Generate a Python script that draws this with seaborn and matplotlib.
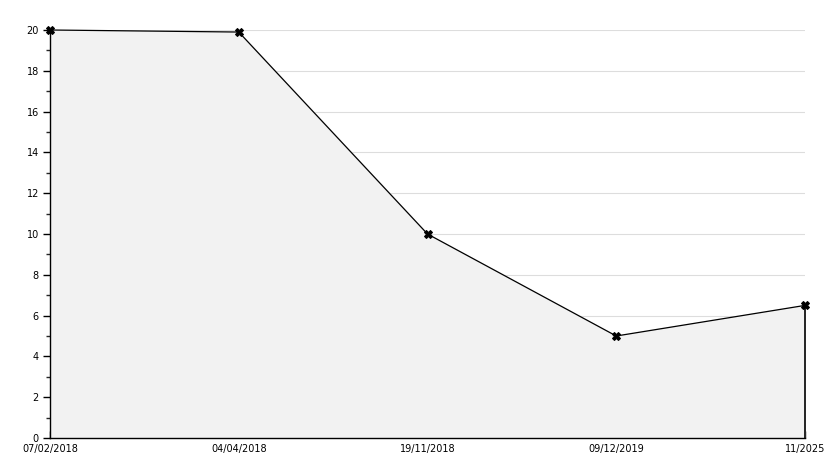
import numpy as np
import pandas as pd
import seaborn as sns
import matplotlib.pyplot as plt
from matplotlib.ticker import MultipleLocator

# data
dates = ["07/02/2018", "04/04/2018", "19/11/2018", "09/12/2019", "11/2025"]
values = [20, 19.9, 10, 5, 6.5]

df = pd.DataFrame({"pos": np.arange(len(dates)), "value": values})

sns.set_style("white")
plt.rcParams["font.family"] = ["DejaVu Sans"]

fig = plt.figure(figsize=(8.34, 4.68), dpi=100)
W, H = 834, 468
ax = fig.add_axes([50 / W, 30 / H, (805 - 50) / W, (438 - 30) / H])

# light grey area under the line
ax.fill_between(df["pos"], df["value"], 0, color="#f2f2f2", zorder=1)
ax.vlines(df["pos"].iloc[-1], 0, df["value"].iloc[-1], color="black", lw=1.2,
          zorder=3, clip_on=False)

sns.lineplot(data=df, x="pos", y="value", color="black", lw=0.9,
             marker="X", markersize=6, markeredgecolor="black", ax=ax,
             zorder=4, clip_on=False)

ax.set_xlim(0, len(dates) - 1)
ax.set_ylim(0, 20)
ax.set_xticks(df["pos"])
ax.set_xticklabels(dates)
ax.yaxis.set_major_locator(MultipleLocator(2))
ax.yaxis.set_minor_locator(MultipleLocator(1))
ax.grid(axis="y", color="#dddddd", lw=0.8, zorder=0)
ax.set_axisbelow(True)

for s in ["top", "right"]:
    ax.spines[s].set_visible(False)
for s in ["left", "bottom"]:
    ax.spines[s].set_color("black")
    ax.spines[s].set_linewidth(1)

ax.tick_params(axis="y", which="major", direction="out", length=5, width=1,
               labelsize=7, colors="black", left=True, pad=3)
ax.tick_params(axis="y", which="minor", direction="out", length=3, width=1, left=True)
ax.tick_params(axis="x", direction="in", length=5, width=1, labelsize=7,
               colors="black", bottom=True, pad=4)
ax.set_xlabel("")
ax.set_ylabel("")

fig.savefig("out.png", dpi=100)
